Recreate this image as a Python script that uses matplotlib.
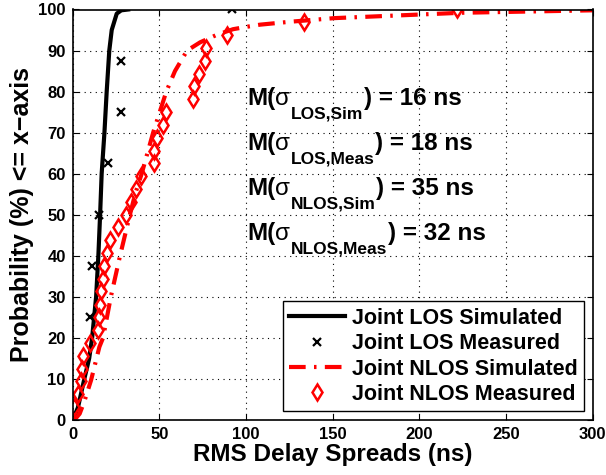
import matplotlib
matplotlib.use("Agg")
import matplotlib.pyplot as plt

plt.rcParams.update({
    "font.family": ["Liberation Sans", "DejaVu Sans"],
    "font.weight": "bold",
})

# LOS simulated CDF
los_sim_x = [0, 3, 6.7, 9.5, 11.2, 13.5, 14.8, 15.8, 16.7, 18.3, 19.6, 21.1, 22.5, 25.4, 28, 32]
los_sim_y = [0, 3, 10, 15, 20, 30, 40, 50, 60, 70, 80, 90, 95, 99, 99.8, 100]

# LOS measured (the lowest point is hidden under the simulated line in the original)
los_meas_x = [10, 11.3, 15.2, 20.5, 27.9, 27.9, 92]
los_meas_y = [25, 37.5, 50, 62.5, 75, 87.5, 100]

# NLOS simulated CDF
nlos_sim_x = [0, 2, 4, 6.7, 10.6, 15.4, 17.5, 22, 27.3, 33, 36, 39.8, 46.4, 54, 59, 66,
              73.5, 83, 92.5, 102, 108, 125, 151, 224, 300]
nlos_sim_y = [0, 0.5, 1.5, 4.5, 9.7, 17.8, 20, 30, 40, 50, 55, 60, 70, 80, 85, 90,
              92, 93.8, 95.2, 95.9, 96.3, 97, 97.9, 99.2, 99.8]

# NLOS measured
nlos_meas_x = [0.9, 2.9, 4.8, 5.2, 5.8, 10.2, 14.8, 15.4, 15.8, 16.2, 17.7, 18.1, 19.6,
               21.5, 26.3, 30.6, 33.5, 36.5, 39.4, 47.1, 47.1, 48.8, 52.3, 53.8, 69.6,
               70.2, 73.1, 76.3, 76.7, 88.9, 133.6, 222]
nlos_meas_y = [3.1, 6.3, 9.4, 12.5, 15.6, 18.8, 21.9, 25.0, 28.1, 31.3, 34.4, 37.5, 40.6,
               43.8, 46.9, 50.0, 53.1, 56.3, 59.4, 62.5, 65.6, 68.8, 71.9, 75.0, 78.1,
               81.3, 84.4, 87.5, 90.6, 93.8, 96.9, 100]

note_subs = ["LOS,Sim", "LOS,Meas", "NLOS,Sim", "NLOS,Meas"]
note_vals = ["16", "18", "35", "32"]
note_y = [76.7, 65.7, 54.8, 43.8]

fig = plt.figure(figsize=(6.06, 4.75), dpi=100)
ax = fig.add_axes([0.12, 0.116, 0.858, 0.864])

ax.plot(los_sim_x, los_sim_y, "-", color="black", lw=3, label="Joint LOS Simulated")
ax.plot(los_meas_x, los_meas_y, "x", color="black", ms=6, mew=1.6, label="Joint LOS Measured")
ax.plot(nlos_sim_x, nlos_sim_y, color="red", lw=3, linestyle=(0, (4, 2, 0.6, 2)),
        label="Joint NLOS Simulated")
ax.plot(nlos_meas_x, nlos_meas_y, "d", color="red", mfc="none", ms=8.5, mew=1.8,
        label="Joint NLOS Measured")

# M(sigma_sub) = N ns, built piece by piece so the subscript sits low like the original
FS, SFS = 17.5, 12.5
for sub, val, y in zip(note_subs, note_vals, note_y):
    t1 = ax.text(100.6, y, "M(", fontsize=FS, fontweight="bold", va="baseline", ha="left")
    t2 = ax.annotate("\u03c3", xy=(1, 0), xycoords=t1, fontsize=FS, fontweight="normal",
                     va="bottom", ha="left")
    t3 = ax.annotate(sub, xy=(1, 0), xycoords=(t2, t1), xytext=(0.5, 2.5),
                     textcoords="offset points", fontsize=SFS, fontweight="bold",
                     va="top", ha="left")
    ax.annotate(") = %s ns" % val, xy=(1, 0), xycoords=(t3, t1), xytext=(0.5, 0),
                textcoords="offset points", fontsize=FS, fontweight="bold",
                va="bottom", ha="left")

ax.set_xlim(0, 300)
ax.set_ylim(0, 100)
ax.set_xticks(range(0, 301, 50))
ax.set_yticks(range(0, 101, 10))
ax.tick_params(direction="in", top=True, right=True, labelsize=12, length=4, pad=5)
for lab in ax.get_xticklabels() + ax.get_yticklabels():
    lab.set_fontweight("bold")
ax.grid(True, linestyle=(0, (1, 4)), color="black", lw=0.8)
for s in ax.spines.values():
    s.set_linewidth(1.2)

ax.set_xlabel("RMS Delay Spreads (ns)", fontsize=17.5, fontweight="bold", labelpad=1)
ax.set_ylabel("Probability (%) <= x\u2212axis", fontsize=18, fontweight="bold", labelpad=3)

leg = ax.legend(loc="lower right", fontsize=15.5, fancybox=False, framealpha=1,
                edgecolor="black", handlelength=2.6, borderaxespad=0.4,
                labelspacing=0.2, handletextpad=0.3, borderpad=0.3)
leg.get_frame().set_linewidth(1.0)
for t in leg.get_texts():
    t.set_fontweight("bold")

fig.savefig("out.png", dpi=100)
